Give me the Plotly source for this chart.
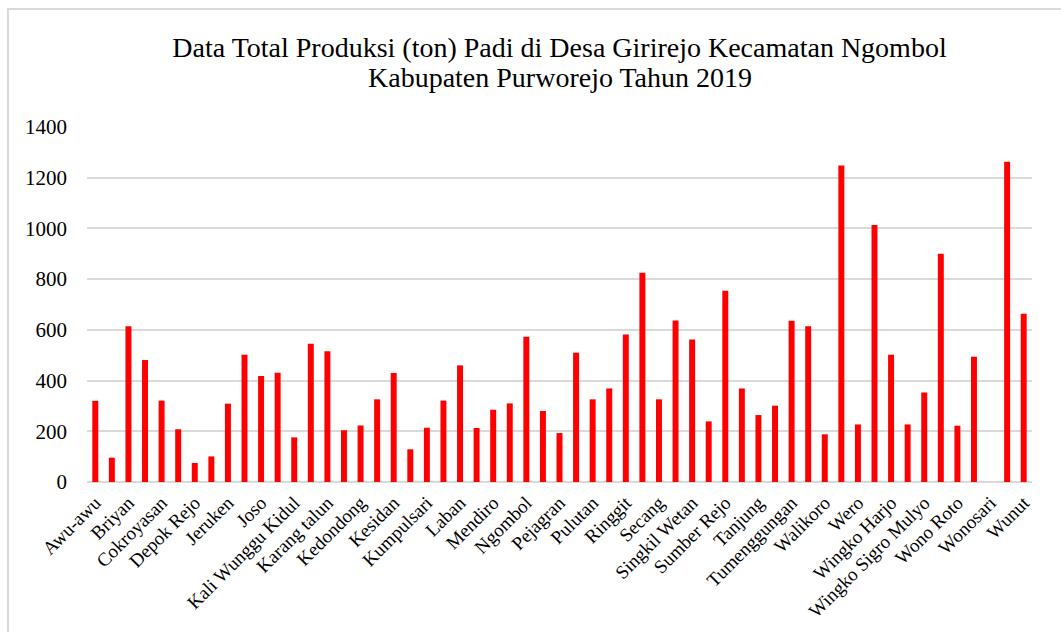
import plotly.graph_objects as go

title_line1 = "Data Total Produksi (ton) Padi di Desa Girirejo Kecamatan Ngombol"
title_line2 = "Kabupaten Purworejo Tahun 2019"

# Tick labels (shown on every other category)
tick_labels = ["Awu-awu", "Briyan", "Cokroyasan", "Depok Rejo", "Jeruken", "Joso",
               "Kali Wunggu Kidul", "Karang talun", "Kedondong", "Kesidan", "Kumpulsari",
               "Laban", "Mendiro", "Ngombol", "Pejagran", "Pulutan", "Ringgit", "Secang",
               "Singkil Wetan", "Sumber Rejo", "Tanjung", "Tumenggungan", "Walikoro", "Wero",
               "Wingko Harjo", "Wingko Sigro Mulyo", "Wono Roto", "Wonosari", "Wunut"]

# Production values (ton) for the 57 category positions
values = [320, 96, 614, 481, 321, 208, 75, 101, 309, 502,
          418, 431, 176, 545, 516, 204, 223, 326, 430, 129,
          214, 321, 460, 213, 285, 310, 573, 280, 193, 510,
          326, 369, 582, 825, 326, 637, 562, 239, 754, 369,
          264, 301, 636, 614, 188, 1248, 227, 1014, 502, 227,
          353, 900, 222, 494, 0, 1263, 664]

y_ticks = [0, 200, 400, 600, 800, 1000, 1200, 1400]

positions = list(range(len(values)))

FONT = "'Liberation Serif', 'Times New Roman', serif"

fig = go.Figure()
fig.add_trace(go.Bar(x=positions, y=values, marker=dict(color="#FF0000", line=dict(width=0))))

W, H = 1061, 632
L, R, T, B = 87, 29, 127, 150
pw, ph = W - L - R, H - T - B

fig.update_layout(
    width=W, height=H,
    margin=dict(l=L, r=R, t=T, b=B),
    paper_bgcolor="white", plot_bgcolor="white",
    font=dict(family=FONT, color="#000000"),
    title=dict(text=title_line1, x=0.5, xref="paper", xanchor="center",
               y=1 - 47 / H, yanchor="middle",
               font=dict(size=28, family=FONT, color="#000000")),
    annotations=[dict(text=title_line2, xref="paper", yref="paper", x=0.5,
                      y=(H - B - 78) / ph, xanchor="center", yanchor="middle",
                      showarrow=False, font=dict(size=28, family=FONT, color="#000000"))],
    bargap=0.64,
    showlegend=False,
    xaxis=dict(tickmode="array", tickvals=positions[::2], ticktext=tick_labels,
               tickangle=-45, tickfont=dict(size=19, family=FONT), showgrid=False, showline=False,
               ticks="", range=[-0.5, len(values) - 0.5], zeroline=False,
               ticklabelstandoff=5),
    yaxis=dict(range=[0, 1400], tickvals=y_ticks, tickfont=dict(size=21, family=FONT),
               showgrid=True, gridcolor="#d9d9d9", gridwidth=1.5, zeroline=True,
               zerolinecolor="#d9d9d9", zerolinewidth=1.5, showline=False, ticks="",
               ticklabelstandoff=19),
    shapes=[dict(type="rect", xref="paper", yref="paper",
                 x0=(8 - L) / pw, x1=(W + 20 - L) / pw,
                 y0=-(H + 20 - T - ph) / ph, y1=(H - B - 9) / ph,
                 line=dict(color="#d9d9d9", width=2), fillcolor="rgba(0,0,0,0)", layer="below")],
)

fig.write_html("out.html")
